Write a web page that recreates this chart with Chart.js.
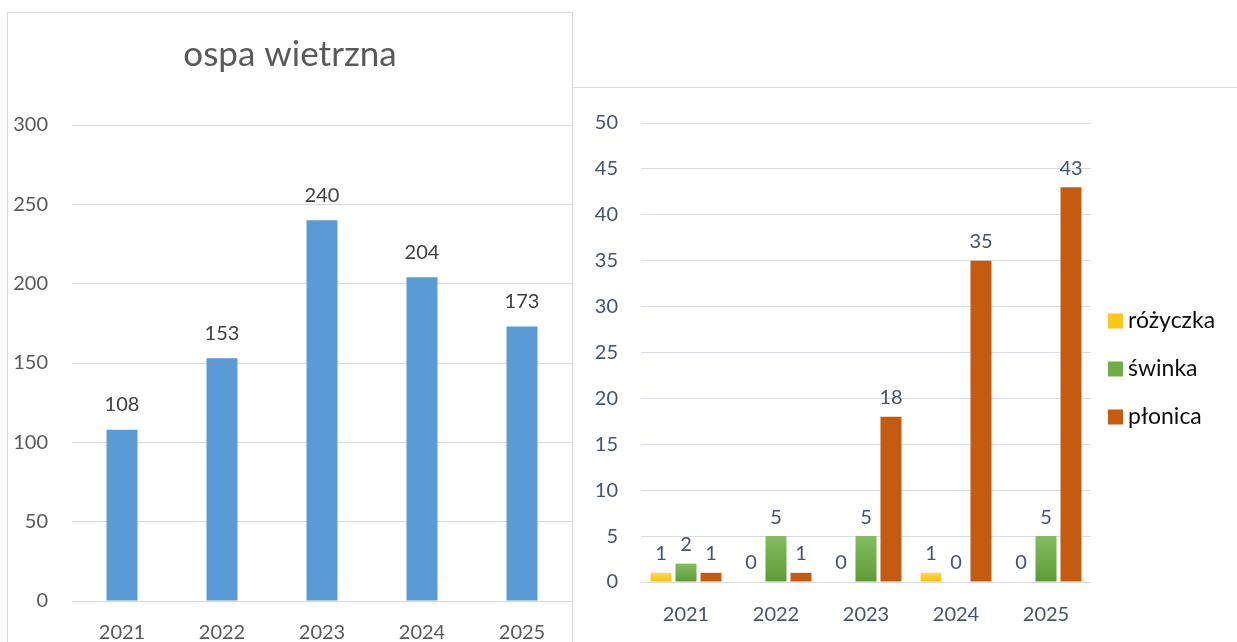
<!DOCTYPE html>
<html lang="pl">
<head>
<meta charset="UTF-8">
<title>ospa wietrzna, różyczka, świnka, płonica</title>
<script src="https://cdn.jsdelivr.net/npm/chart.js"></script>
<style>
  body { margin: 0; width: 1237px; height: 642px; overflow: hidden; position: relative; background: #fff; }
  .frame { position: absolute; box-sizing: border-box; pointer-events: none; z-index: 2; }
  #leftFrame { left: 7px; top: 12px; width: 566px; height: 640px; border: 1px solid #d9d9d9; }
  #rightFrame { left: 572px; top: 87px; width: 670px; height: 560px; border-top: 1px solid #d9d9d9; border-left: 1px solid #d9d9d9; }
  #leftChart { position: absolute; left: 8px; top: 13px; }
  #rightChart { position: absolute; left: 573px; top: 88px; }
</style>
</head>
<body>
<div class="frame" id="leftFrame"></div>
<div class="frame" id="rightFrame"></div>
<canvas id="leftChart" width="564" height="629"></canvas>
<canvas id="rightChart" width="664" height="554"></canvas>

<script>
// data
const years = ['2021', '2022', '2023', '2024', '2025'];
const ospaWietrzna = [108, 153, 240, 204, 173];
const rozyczka = [1, 0, 0, 1, 0];
const swinka = [2, 5, 5, 0, 5];
const plonica = [1, 1, 18, 35, 43];

const leftAxis = { max: 300, step: 50 };
const rightAxis = { max: 50, step: 5 };

const FONT = 'Lato, "Open Sans", sans-serif';

// numbers above every bar
const valueLabels = {
    id: 'valueLabels',
    afterDatasetsDraw(chart, args, opts) {
        const ctx = chart.ctx;
        ctx.save();
        ctx.font = opts.size + 'px ' + FONT;
        ctx.fillStyle = opts.color;
        ctx.textAlign = 'center';
        ctx.textBaseline = 'middle';
        chart.data.datasets.forEach((ds, i) => {
            chart.getDatasetMeta(i).data.forEach((bar, j) => {
                ctx.fillText(String(ds.data[j]), bar.x, bar.y - opts.offset);
            });
        });
        ctx.restore();
    }
};

// legend to the right of the plot, drawn by hand for exact spacing
const sideLegend = {
    id: 'sideLegend',
    afterDraw(chart, args, opts) {
        const ctx = chart.ctx;
        const sets = chart.data.datasets;
        const x = chart.chartArea.right + opts.gap;
        let y = chart.height / 2 + opts.shift - (sets.length - 1) * opts.spacing / 2;
        ctx.save();
        ctx.font = opts.size + 'px ' + FONT;
        ctx.textBaseline = 'middle';
        ctx.textAlign = 'left';
        sets.forEach(ds => {
            ctx.fillStyle = ds.legendColor;
            ctx.fillRect(x, y - opts.box / 2, opts.box, opts.box);
            ctx.fillStyle = opts.color;
            ctx.fillText(ds.label, x + opts.box + 5, y);
            y += opts.spacing;
        });
        ctx.restore();
    }
};

// excel-like vertical gradient per bar
function barGradient(top, bottom) {
    return function (c) {
        const chart = c.chart;
        const y = chart.scales && chart.scales.y;
        if (!y || c.type !== 'data' || !c.parsed) return bottom;
        const y1 = y.getPixelForValue(c.parsed.y);
        const y0 = y.getPixelForValue(0);
        if (!isFinite(y1) || !isFinite(y0) || y1 === y0) return bottom;
        const g = chart.ctx.createLinearGradient(0, y1, 0, y0);
        g.addColorStop(0, top);
        g.addColorStop(1, bottom);
        return g;
    };
}

new Chart(document.getElementById('leftChart'), {
    type: 'bar',
    data: {
        labels: years,
        datasets: [{
            label: 'ospa wietrzna',
            data: ospaWietrzna,
            backgroundColor: '#5b9bd5',
            barPercentage: 0.62,
            categoryPercentage: 0.5
        }]
    },
    options: {
        responsive: false,
        animation: false,
        layout: { padding: { left: 0, right: 0, bottom: 0 } },
        plugins: {
            legend: { display: false },
            tooltip: { enabled: false },
            title: {
                display: true,
                text: 'ospa wietrzna',
                color: '#595959',
                font: { family: FONT, size: 35, weight: 'normal', lineHeight: 1.2 },
                padding: { top: 21, bottom: 49 }
            },
            valueLabels: { size: 20, color: '#404040', offset: 25 }
        },
        scales: {
            x: {
                grid: { display: false },
                border: { display: false },
                ticks: { color: '#595959', font: { family: FONT, size: 20 }, padding: 12, maxRotation: 0, autoSkip: false },
                afterFit(scale) { scale.height = 41; }
            },
            y: {
                min: 0,
                max: leftAxis.max,
                ticks: { stepSize: leftAxis.step, color: '#595959', font: { family: FONT, size: 20 }, padding: 24 },
                grid: { color: '#d9d9d9', lineWidth: 1, drawTicks: false },
                border: { display: false },
                afterFit(scale) { scale.width = 64; }
            }
        }
    },
    plugins: [valueLabels]
});

new Chart(document.getElementById('rightChart'), {
    type: 'bar',
    data: {
        labels: years,
        datasets: [
            { label: 'różyczka', data: rozyczka, backgroundColor: barGradient('#ffd84f', '#ffbf00'), legendColor: '#ffc61a' },
            { label: 'świnka', data: swinka, backgroundColor: barGradient('#84bd61', '#5c9c34'), legendColor: '#70ad47' },
            { label: 'płonica', data: plonica, backgroundColor: '#c55a11', legendColor: '#c55a11' }
        ]
    },
    options: {
        responsive: false,
        animation: false,
        datasets: { bar: { categoryPercentage: 0.833, barPercentage: 0.84 } },
        layout: { padding: { top: 32, right: 146, left: 0, bottom: 0 } },
        plugins: {
            legend: { display: false },
            tooltip: { enabled: false },
            valueLabels: { size: 20, color: '#44546a', offset: 19 },
            sideLegend: { gap: 17, box: 15, spacing: 48, shift: 4, size: 23, color: '#0d0d0d' }
        },
        scales: {
            x: {
                grid: { display: false },
                border: { display: false },
                ticks: { color: '#44546a', font: { family: FONT, size: 20 }, padding: 13, maxRotation: 0, autoSkip: false },
                afterFit(scale) { scale.height = 60; }
            },
            y: {
                min: 0,
                max: rightAxis.max,
                ticks: { stepSize: rightAxis.step, color: '#44546a', font: { family: FONT, size: 20 }, padding: 23 },
                grid: { color: '#d9dee6', lineWidth: 1, drawTicks: false },
                border: { display: false },
                afterFit(scale) { scale.width = 68; }
            }
        }
    },
    plugins: [valueLabels, sideLegend]
});
</script>
</body>
</html>
